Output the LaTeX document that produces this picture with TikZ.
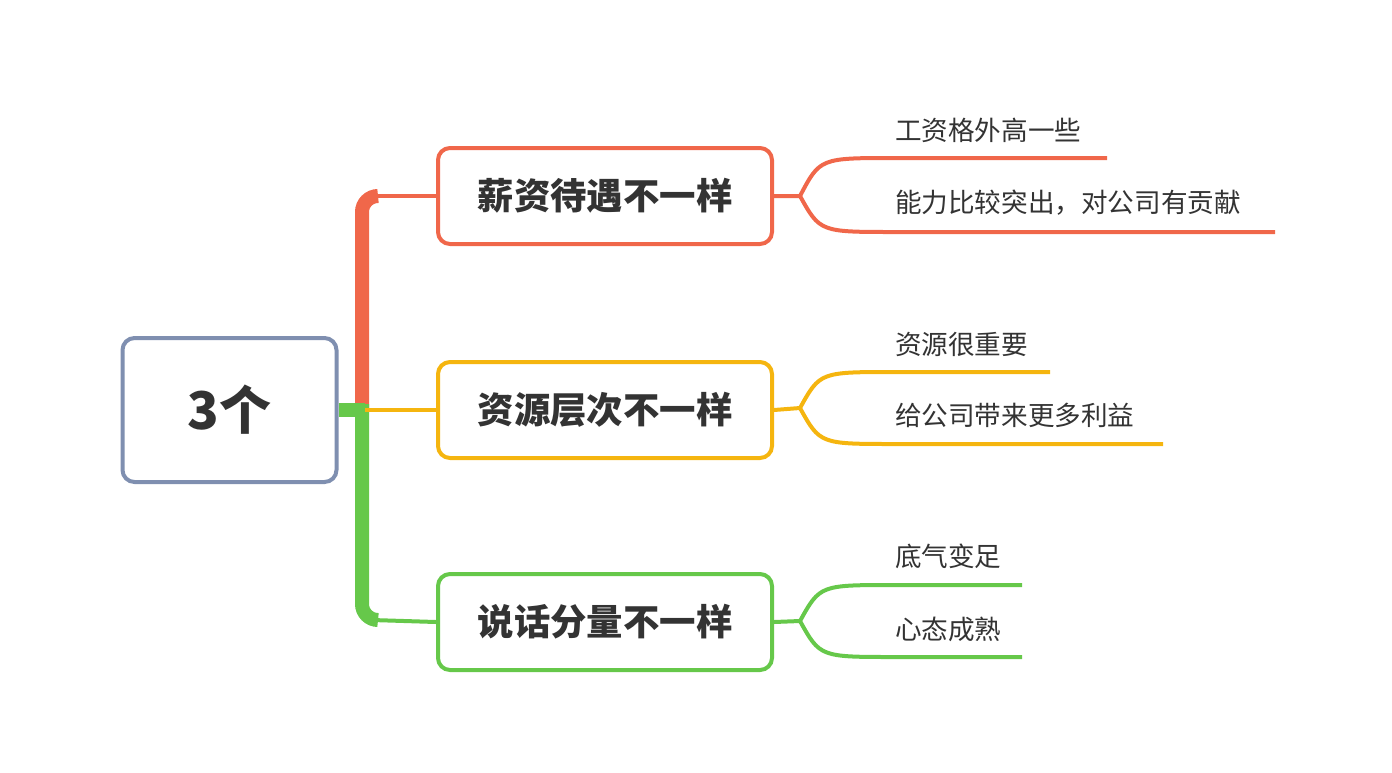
\documentclass[tikz,border=0pt]{standalone}
\usepackage{fontspec}
\setmainfont{Noto Sans CJK SC}
\definecolor{cred}{HTML}{F0674A}
\definecolor{corange}{HTML}{F5B50F}
\definecolor{cgreen}{HTML}{66C84A}
\definecolor{cblue}{HTML}{7F8FB0}
\definecolor{ctext}{HTML}{333333}
\tikzset{topic/.style = {draw, line width=2pt, rounded corners=6pt, fill=white, minimum width=167pt, minimum height=48pt, font=\fontsize{18.2}{21}\selectfont\bfseries, text=ctext},
         leaf/.style = {anchor=west, font=\fontsize{13.3}{16}\selectfont, text=ctext}}
\begin{document}
\begin{tikzpicture}[x=0.5pt,y=-0.5pt]
        \useasboundingbox (0,0) rectangle (1392,772);
        \node[topic, draw=cblue, minimum width=107pt, minimum height=72pt, font=\fontsize{26}{30}\selectfont\bfseries](root) at (229.5,410){3个};
        \node[topic, draw=cred](pay) at (605,196){薪资待遇不一样};
        \node[topic, draw=corange](res) at (605,410){资源层次不一样};
        \node[topic, draw=cgreen](say) at (605,622){说话分量不一样};

        % trunk
        \draw[cred, line width=7pt, rounded corners=8pt](362,410)--(362,196)--(378,196);
        \draw[cgreen, line width=7pt, rounded corners=8pt](362,404)--(362,620)--(378,620);
        \draw[cgreen, line width=7pt](root.east)--(365,410);
        \draw[cred, line width=2pt](372,196)--(pay.west);
        \draw[corange, line width=2pt](365,410)--(res.west);
        \draw[cgreen, line width=2pt](372,620)--(say.west);

        % pay
        \coordinate (p1) at (895,158);
        \coordinate (p2) at (895,232);
        \draw[cred, line width=2pt](pay.east)--(800,196) .. controls (820,158) .. (p1)--(1107,158);
        \draw[cred, line width=2pt](800,196) .. controls (820,232) .. (p2)--(1275,232);
        \node[leaf](pl1) at (888,130){工资格外高一些};
        \node[leaf](pl2) at (888,203){能力比较突出，对公司有贡献};

        % res
        \coordinate (r1) at (895,372);
        \coordinate (r2) at (895,444);
        \draw[corange, line width=2pt](res.east)--(800,408) .. controls (820,372) .. (r1)--(1050,372);
        \draw[corange, line width=2pt](800,408) .. controls (820,444) .. (r2)--(1163,444);
        \node[leaf](rl1) at (888,344){资源很重要};
        \node[leaf](rl2) at (888,415){给公司带来更多利益};

        % say
        \coordinate (s1) at (895,585);
        \coordinate (s2) at (895,657);
        \draw[cgreen, line width=2pt](say.east)--(800,621) .. controls (820,585) .. (s1)--(1022,585);
        \draw[cgreen, line width=2pt](800,621) .. controls (820,657) .. (s2)--(1022,657);
        \node[leaf](sl1) at (888,556){底气变足};
        \node[leaf](sl2) at (888,629){心态成熟};
\end{tikzpicture}
\end{document}
